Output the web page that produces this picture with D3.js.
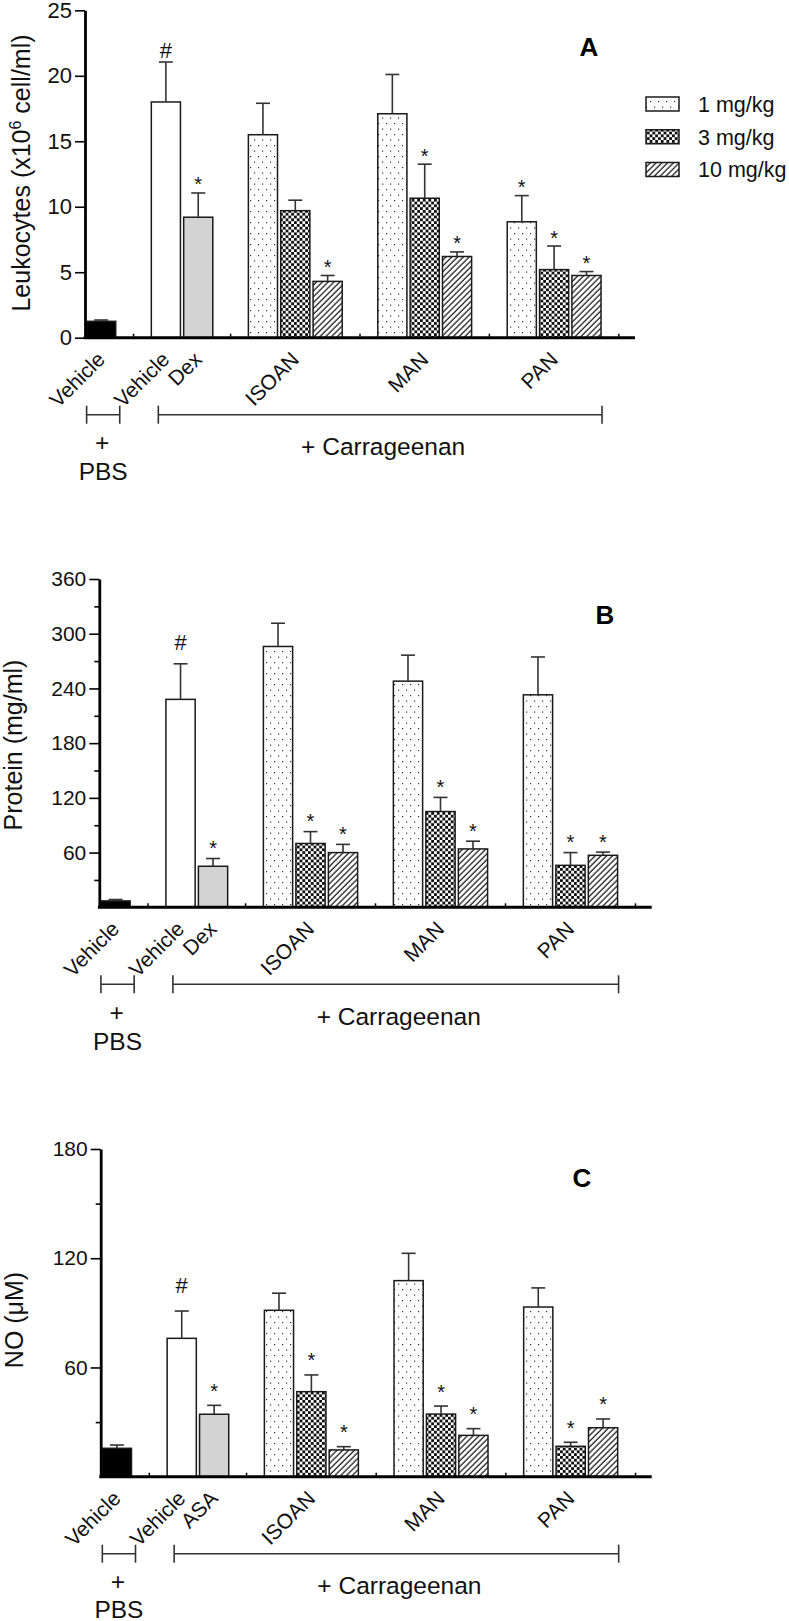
<!DOCTYPE html>
<html><head><meta charset="utf-8">
<script src="https://cdn.jsdelivr.net/npm/d3@7"></script>
<style>
body{margin:0;background:#fff}
svg{display:block;font-family:"Liberation Sans",Arial,Helvetica,sans-serif}
</style></head><body>
<svg id="chart" width="789" height="1621"></svg>
<script>
// ---------- DATA ----------
const barKeys = ["PBS|Vehicle","Carr|Vehicle","Carr|Ref","ISOAN|1","ISOAN|3","ISOAN|10","MAN|1","MAN|3","MAN|10","PAN|1","PAN|3","PAN|10"];
const barKinds = ["black","white","gray","d1","d3","d10","d1","d3","d10","d1","d3","d10"];
const doseLabels = ["1 mg/kg","3 mg/kg","10 mg/kg"];
const doseKinds = ["d1","d3","d10"];

// Panel A – Leukocytes
const leukMean = [1.25, 18.0, 9.2, 15.5, 9.7, 4.3, 17.1, 10.65, 6.2, 8.85, 5.2, 4.75];
const leukErr  = [0.1, 3.05, 1.85, 2.4, 0.8, 0.45, 3.0, 2.6, 0.35, 2.0, 1.8, 0.3];
const leukMarks = ["", "#", "*", "", "", "*", "", "*", "*", "*", "*", "*"];
const leukTicks = [0, 5, 10, 15, 20, 25];
const leukMinor = [];
const leukCats = ["Vehicle","Vehicle","Dex","ISOAN","MAN","PAN"];

// Panel B – Protein
const protMean = [7, 228, 45, 286, 70, 60, 248, 105, 64, 233, 46, 57];
const protErr  = [1.5, 39, 8.5, 25.5, 13, 9, 28.5, 15.5, 8.5, 41.5, 14, 3.5];
const protMarks = ["", "#", "*", "", "*", "*", "", "*", "*", "", "*", "*"];
const protTicks = [60, 120, 180, 240, 300, 360];
const protMinor = [30, 90, 150, 210, 270, 330];
const protCats = ["Vehicle","Vehicle","Dex","ISOAN","MAN","PAN"];

// Panel C – NO
const noMean = [15.6, 76, 34.3, 91.4, 46.7, 14.7, 107.7, 34.4, 22.7, 93.2, 16.7, 26.9];
const noErr  = [1.8, 15, 4.9, 9.4, 9.2, 1.8, 15, 4.4, 3.7, 10.5, 2.2, 4.8];
const noMarks = ["", "#", "*", "", "*", "*", "", "*", "*", "", "*", "*"];
const noTicks = [60, 120, 180];
const noMinor = [30, 150];
const noCats = ["Vehicle","Vehicle","ASA","ISOAN","MAN","PAN"];

const catBarIndex = [0, 1, 2, 4, 7, 10];

// ---------- SETUP ----------
const svg = d3.select("#chart");
const defs = svg.append("defs");

const pd = defs.append("pattern").attr("id","p-d1").attr("patternUnits","userSpaceOnUse").attr("width",8).attr("height",11);
pd.append("rect").attr("width",8).attr("height",11).attr("fill","#fff");
pd.append("rect").attr("x",2).attr("y",2).attr("width",1.2).attr("height",1.2).attr("fill","#333");
pd.append("rect").attr("x",6).attr("y",7.5).attr("width",1.2).attr("height",1.2).attr("fill","#333");

const pc = defs.append("pattern").attr("id","p-d3").attr("patternUnits","userSpaceOnUse").attr("width",5.6).attr("height",5.6);
pc.append("rect").attr("width",5.6).attr("height",5.6).attr("fill","#fff");
pc.append("rect").attr("width",2.8).attr("height",2.8).attr("fill","#111");
pc.append("rect").attr("x",2.8).attr("y",2.8).attr("width",2.8).attr("height",2.8).attr("fill","#111");

const ph = defs.append("pattern").attr("id","p-d10").attr("patternUnits","userSpaceOnUse").attr("width",4.1).attr("height",4.1).attr("patternTransform","rotate(45)");
ph.append("rect").attr("width",4.1).attr("height",4.1).attr("fill","#fff");
ph.append("line").attr("x1",1).attr("x2",1).attr("y1",0).attr("y2",4.1).attr("stroke","#222").attr("stroke-width",1.3);

const fillOf = k => ({black:"#000", white:"#fff", gray:"#d3d3d3", d1:"url(#p-d1)", d3:"url(#p-d3)", d10:"url(#p-d10)"}[k]);

const gapAfter = [0, 2, 5, 8, 11];
const slotKeys = [];
barKeys.forEach((k, i) => { slotKeys.push(k); if (gapAfter.includes(i)) slotKeys.push("gap" + i); });
const gapKeys = slotKeys.filter(k => k.startsWith("gap"));

function panel(cfg) {
  const g = svg.append("g");
  const x = d3.scaleBand().domain(slotKeys).range([cfg.x0, cfg.x1]).paddingInner(0.1).paddingOuter(0.05);
  const y = d3.scaleLinear().domain([0, cfg.max]).range([cfg.y0, cfg.yTop]);
  const bw = x.bandwidth();

  g.selectAll("rect.bar").data(barKeys).join("rect")
    .attr("x", k => x(k))
    .attr("y", (k, i) => y(cfg.mean[i]))
    .attr("width", bw)
    .attr("height", (k, i) => cfg.y0 - y(cfg.mean[i]))
    .attr("fill", (k, i) => fillOf(barKinds[i]))
    .attr("stroke", "#1a1a1a").attr("stroke-width", 1.5);

  const eb = g.selectAll("g.err").data(barKeys).join("g");
  eb.append("line")
    .attr("x1", k => x(k) + bw / 2).attr("x2", k => x(k) + bw / 2)
    .attr("y1", (k, i) => y(cfg.mean[i])).attr("y2", (k, i) => y(cfg.mean[i] + cfg.err[i]))
    .attr("stroke", "#333").attr("stroke-width", 1.6);
  eb.append("line")
    .attr("x1", k => x(k) + bw / 2 - 7).attr("x2", k => x(k) + bw / 2 + 7)
    .attr("y1", (k, i) => y(cfg.mean[i] + cfg.err[i])).attr("y2", (k, i) => y(cfg.mean[i] + cfg.err[i]))
    .attr("stroke", "#333").attr("stroke-width", 1.6);

  g.selectAll("text.mark").data(barKeys).join("text")
    .attr("x", k => x(k) + bw / 2)
    .attr("y", (k, i) => {
      const top = y(cfg.mean[i] + cfg.err[i]);
      return cfg.marks[i] === "#" ? top - cfg.gapH + 7.5 : top - cfg.gapS + 11.5;
    })
    .attr("text-anchor", "middle")
    .attr("font-size", (k, i) => cfg.marks[i] === "#" ? 22 : 20)
    .attr("fill", "#111")
    .text((k, i) => cfg.marks[i]);

  const ya = g.append("g").attr("transform", `translate(${cfg.x0},0)`)
    .call(d3.axisLeft(y).tickValues(cfg.ticks).tickSize(10).tickSizeOuter(0).tickPadding(3));
  ya.select(".domain").attr("stroke", "#000").attr("stroke-width", 2.8);
  ya.selectAll(".tick line").attr("stroke", "#000").attr("stroke-width", 1.6);
  ya.selectAll(".tick text").attr("font-size", cfg.tickFont).attr("fill", "#111")
    .attr("font-family", '"Liberation Sans",Arial,sans-serif');
  if (cfg.minor.length) {
    const ym = g.append("g").attr("transform", `translate(${cfg.x0},0)`)
      .call(d3.axisLeft(y).tickValues(cfg.minor).tickSize(5).tickSizeOuter(0).tickFormat(""));
    ym.select(".domain").remove();
    ym.selectAll(".tick line").attr("stroke", "#000").attr("stroke-width", 1.6);
  }

  g.append("line").attr("x1", cfg.x0 - 1.4).attr("x2", cfg.x1).attr("y1", cfg.y0).attr("y2", cfg.y0)
    .attr("stroke", "#000").attr("stroke-width", 3);
  g.selectAll("line.gt").data(gapKeys).join("line")
    .attr("x1", k => x(k) + bw / 2).attr("x2", k => x(k) + bw / 2)
    .attr("y1", cfg.y0 - 1).attr("y2", cfg.y0 - 4)
    .attr("stroke", "#000").attr("stroke-width", 1.5);

  const yl = g.append("text")
    .attr("transform", `translate(${cfg.ylx},${cfg.yly}) rotate(-90)`)
    .attr("text-anchor", "middle").attr("font-size", 25).attr("fill", "#111");
  cfg.ylabel(yl);

  g.append("text").attr("x", cfg.lx).attr("y", cfg.ly).attr("text-anchor", "middle")
    .attr("font-size", 26).attr("font-weight", "bold").attr("fill", "#000").text(cfg.letter);

  g.selectAll("text.cat").data(cfg.cats).join("text")
    .attr("transform", (d, i) => {
      const k = barKeys[catBarIndex[i]];
      return `translate(${x(k) + bw / 2 + 5},${cfg.y0 + 23}) rotate(-45)`;
    })
    .attr("text-anchor", "end").attr("font-size", 21).attr("fill", "#111")
    .text(d => d);

  const by = cfg.y0 + 77;
  const pbsL = x(barKeys[0]), pbsR = x(barKeys[0]) + bw + 4;
  const carL = x(barKeys[1]) + 7, carR = x(barKeys[11]) + bw + 1;
  const br = g.append("g").attr("stroke", "#333").attr("stroke-width", 1.6);
  [[pbsL, pbsR], [carL, carR]].forEach(([a, b]) => {
    br.append("line").attr("x1", a).attr("x2", b).attr("y1", by).attr("y2", by);
    br.append("line").attr("x1", a).attr("x2", a).attr("y1", by - 9).attr("y2", by + 9);
    br.append("line").attr("x1", b).attr("x2", b).attr("y1", by - 9).attr("y2", by + 9);
  });
  g.append("text").attr("x", (pbsL + pbsR) / 2 - 1).attr("y", cfg.y0 + 113.5).attr("text-anchor", "middle")
    .attr("font-size", 24.5).attr("fill", "#111").text("+");
  g.append("text").attr("x", (pbsL + pbsR) / 2).attr("y", Math.min(cfg.y0 + 142.6, 1618)).attr("text-anchor", "middle")
    .attr("font-size", 24.5).attr("fill", "#111").text("PBS");
  g.append("text").attr("x", (carL + carR) / 2 + 3).attr("y", cfg.y0 + 117.6).attr("text-anchor", "middle")
    .attr("font-size", 24.5).attr("fill", "#111").text("+ Carrageenan");
  return g;
}

panel({
  x0: 85, x1: 635, y0: 337.7, yTop: 10.3, max: 25,
  mean: leukMean, err: leukErr, marks: leukMarks, ticks: leukTicks, minor: leukMinor, cats: leukCats,
  tickFont: 22, gapS: 13, gapH: 12,
  ylx: 30, yly: 173,
  ylabel: t => { t.append("tspan").text("Leukocytes (x10");
                 t.append("tspan").attr("dy", -9).attr("font-size", 16).text("6");
                 t.append("tspan").attr("dy", 9).text(" cell/ml)"); },
  letter: "A", lx: 589, ly: 56
});
panel({
  x0: 99.3, x1: 651.7, y0: 907.3, yTop: 579, max: 360,
  mean: protMean, err: protErr, marks: protMarks, ticks: protTicks, minor: protMinor, cats: protCats,
  tickFont: 21, gapS: 15, gapH: 21,
  ylx: 22, yly: 745,
  ylabel: t => t.text("Protein (mg/ml)"),
  letter: "B", lx: 605, ly: 624
});
panel({
  x0: 100.7, x1: 651.7, y0: 1476.7, yTop: 1149, max: 180,
  mean: noMean, err: noErr, marks: noMarks, ticks: noTicks, minor: noMinor, cats: noCats,
  tickFont: 21, gapS: 19, gapH: 26,
  ylx: 23, yly: 1320,
  ylabel: t => t.text("NO (\u03bcM)"),
  letter: "C", lx: 582, ly: 1187
});

const lg = svg.append("g");
const ly = d3.scalePoint().domain(doseLabels).range([104, 169.5]);
lg.selectAll("rect").data(doseLabels).join("rect")
  .attr("x", 646).attr("y", d => ly(d) - 7).attr("width", 33).attr("height", 14)
  .attr("fill", (d, i) => fillOf(doseKinds[i])).attr("stroke", "#1a1a1a").attr("stroke-width", 1.5);
lg.selectAll("text").data(doseLabels).join("text")
  .attr("x", 698).attr("y", d => ly(d) + 7.8).attr("font-size", 21.5).attr("fill", "#111").text(d => d);
</script>
</body></html>
